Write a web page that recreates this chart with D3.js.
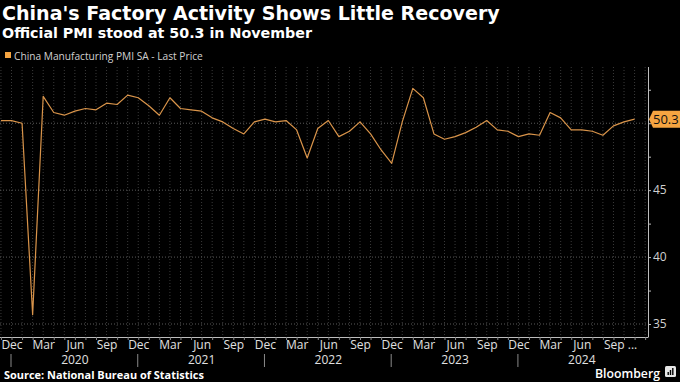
<!DOCTYPE html>
<html><head><meta charset="utf-8">
<script src="https://cdn.jsdelivr.net/npm/d3@7"></script>
<style>
html,body{margin:0;padding:0;background:#000;}
svg{display:block;}
</style></head>
<body>
<svg id="c" width="680" height="382"></svg>
<script>
// ---- data ----
const startMonth = "2019-11";
const monthNames = ["Jan","Feb","Mar","Apr","May","Jun","Jul","Aug","Sep","Oct","Nov","Dec"];
const pmi = [
  50.2, 50.2,                                                       // Nov-Dec 2019
  50.0, 35.7, 52.0, 50.8, 50.6, 50.9, 51.1, 51.0, 51.5, 51.4, 52.1, 51.9, // 2020
  51.3, 50.6, 51.9, 51.1, 51.0, 50.9, 50.4, 50.1, 49.6, 49.2, 50.1, 50.3, // 2021
  50.1, 50.2, 49.5, 47.4, 49.6, 50.2, 49.0, 49.4, 50.1, 49.2, 48.0, 47.0, // 2022
  50.1, 52.6, 51.9, 49.2, 48.8, 49.0, 49.3, 49.7, 50.2, 49.5, 49.4, 49.0, // 2023
  49.2, 49.1, 50.8, 50.4, 49.5, 49.5, 49.4, 49.1, 49.8, 50.1, 50.3        // 2024
];
const yTicks = [35, 40, 45, 50];
const yMinorTicks = [37.5, 42.5, 47.5, 52.5];
const years = [2020, 2021, 2022, 2023, 2024];
const lastLabel = "50.3";

const title = "China's Factory Activity Shows Little Recovery";
const subtitle = "Official PMI stood at 50.3 in November";
const legendLabel = "China Manufacturing PMI SA - Last Price";
const source = "Source: National Bureau of Statistics";

// ---- helpers ----
const monthOf = i => (10 + i) % 12;          // index 0 = Nov 2019
const svg = d3.select("#c");
const L = 0, R = 648, T = 67, B = 337;
const x = d3.scaleLinear().domain([-0.09, 61.27]).range([L, R]);
const y = d3.scaleLinear().domain([34.03, 54.2]).range([B, T]);
const orange = "#f5a441";
const font = "'Open Sans', 'Noto Sans', sans-serif";
const headFont = "'DejaVu Sans', sans-serif";

function fit(sel, w) {
  const n = sel.node(); const cur = n.getComputedTextLength();
  const fs = parseFloat(sel.attr("font-size"));
  sel.attr("font-size", (fs * w / cur).toFixed(2));
}

// titles
fit(svg.append("text").attr("x", 2).attr("y", 19.5).attr("fill", "#fff")
  .attr("font-family", headFont).attr("font-weight", 700).attr("font-size", 18).text(title), 498);
fit(svg.append("text").attr("x", 2).attr("y", 38).attr("fill", "#fff")
  .attr("font-family", headFont).attr("font-weight", 700).attr("font-size", 14).text(subtitle), 310);

// legend
svg.append("rect").attr("x", 5).attr("y", 52).attr("width", 6).attr("height", 6).attr("fill", orange);
fit(svg.append("text").attr("x", 14).attr("y", 59.5).attr("fill", "#d0d0d0")
  .attr("font-family", font).attr("font-size", 10.5).text(legendLabel), 189);

// gridlines
const months = d3.range(0, 62);
svg.append("g").selectAll("line").data(months.filter(i => x(i) >= 0 && x(i) < R)).join("line")
  .attr("x1", d => x(d)).attr("x2", d => x(d)).attr("y1", T).attr("y2", B)
  .attr("stroke", "#3a3a3a").attr("stroke-width", 1).attr("stroke-dasharray", "1,2");
svg.append("g").selectAll("line").data(yTicks).join("line")
  .attr("x1", L).attr("x2", R).attr("y1", d => y(d)).attr("y2", d => y(d))
  .attr("stroke", "#5a5a5a").attr("stroke-width", 1).attr("stroke-dasharray", "1,2");

// right axis
const yAxis = d3.axisRight(y).tickValues(yTicks.concat(yMinorTicks)).tickSize(3)
  .tickFormat(d => yTicks.includes(d) && d !== 50 ? d : "");
const ya = svg.append("g").attr("transform", `translate(${R},0)`).call(yAxis);
ya.select(".domain").attr("stroke", "#bdbdbd").attr("d", `M0.5,${T}V${B}`);
ya.selectAll(".tick line").attr("stroke", "#bdbdbd");
ya.selectAll(".tick text").attr("fill", "#d0d0d0").attr("font-family", font).attr("font-size", 12).attr("x", 5);

// bottom axis
const labelIdx = months.filter(i => monthOf(i) % 3 === 2 && i <= 58);
const xAxis = d3.axisBottom(x).tickValues(months.filter(i => x(i) >= 0 && x(i) < R)).tickSize(3)
  .tickFormat(d => labelIdx.includes(d) ? monthNames[monthOf(d)] : "");
const xa = svg.append("g").attr("transform", `translate(0,${B})`).call(xAxis);
xa.select(".domain").attr("stroke", "#bdbdbd").attr("d", `M${L},0.5H${R + 0.5}`);
xa.selectAll(".tick line").attr("stroke", "#8a8a8a");
xa.selectAll(".tick text").attr("fill", "#e0e0e0").attr("font-family", font).attr("font-size", 12)
  .attr("y", 3).attr("dy", "0.71em");
xa.selectAll(".tick").filter(d => d === 58).select("text")
  .attr("text-anchor", "start").attr("x", -10).text(monthNames[monthOf(58)] + " ...");

// year separators + labels
const decIdx = years.map((yr, k) => 1 + 12 * k);
svg.append("g").selectAll("line").data(decIdx).join("line")
  .attr("x1", d => x(d) - 0.5).attr("x2", d => x(d) - 0.5).attr("y1", 354).attr("y2", 367)
  .attr("stroke", "#8a8a8a");
svg.append("g").selectAll("text").data(years).join("text")
  .attr("x", (d, k) => x(1 + 12 * k + 6)).attr("y", 364).attr("text-anchor", "middle")
  .attr("fill", "#e0e0e0").attr("font-family", font).attr("font-size", 12).text(d => d);

// series line
svg.append("path").datum(pmi)
  .attr("d", d3.line().x((d, i) => x(i)).y(d => y(d)))
  .attr("fill", "none").attr("stroke", "#d9944a").attr("stroke-width", 1.2).attr("stroke-linejoin", "round");

// last value tag
const ly = y(pmi[pmi.length - 1]);
svg.append("path")
  .attr("d", `M${R + 1},${ly} L${R + 5},${ly - 8.5} H680 V${ly + 8.5} H${R + 5} Z`)
  .attr("fill", orange);
svg.append("text").attr("x", 653).attr("y", ly + 4.5).attr("fill", "#111")
  .attr("font-family", font).attr("font-size", 13).text(lastLabel);

// footer
fit(svg.append("text").attr("x", 4).attr("y", 379).attr("fill", "#fff")
  .attr("font-family", font).attr("font-weight", 700).attr("font-size", 11).text(source), 200);
fit(svg.append("text").attr("x", 595).attr("y", 377.5).attr("fill", "#fff")
  .attr("font-family", font).attr("font-weight", 600).attr("font-size", 14).text("Bloomberg"), 65);
// logo
const lg = svg.append("g").attr("transform", "translate(665,366)");
lg.append("rect").attr("width", 11).attr("height", 11).attr("rx", 1.5).attr("fill", "#e6e6e6");
lg.selectAll("rect.b").data([3, 5, 7]).join("rect").attr("class", "b")
  .attr("x", (d, i) => 2.5 + i * 2.3).attr("y", d => 9 - d).attr("width", 1.4).attr("height", d => d).attr("fill", "#000");
</script>
</body></html>
